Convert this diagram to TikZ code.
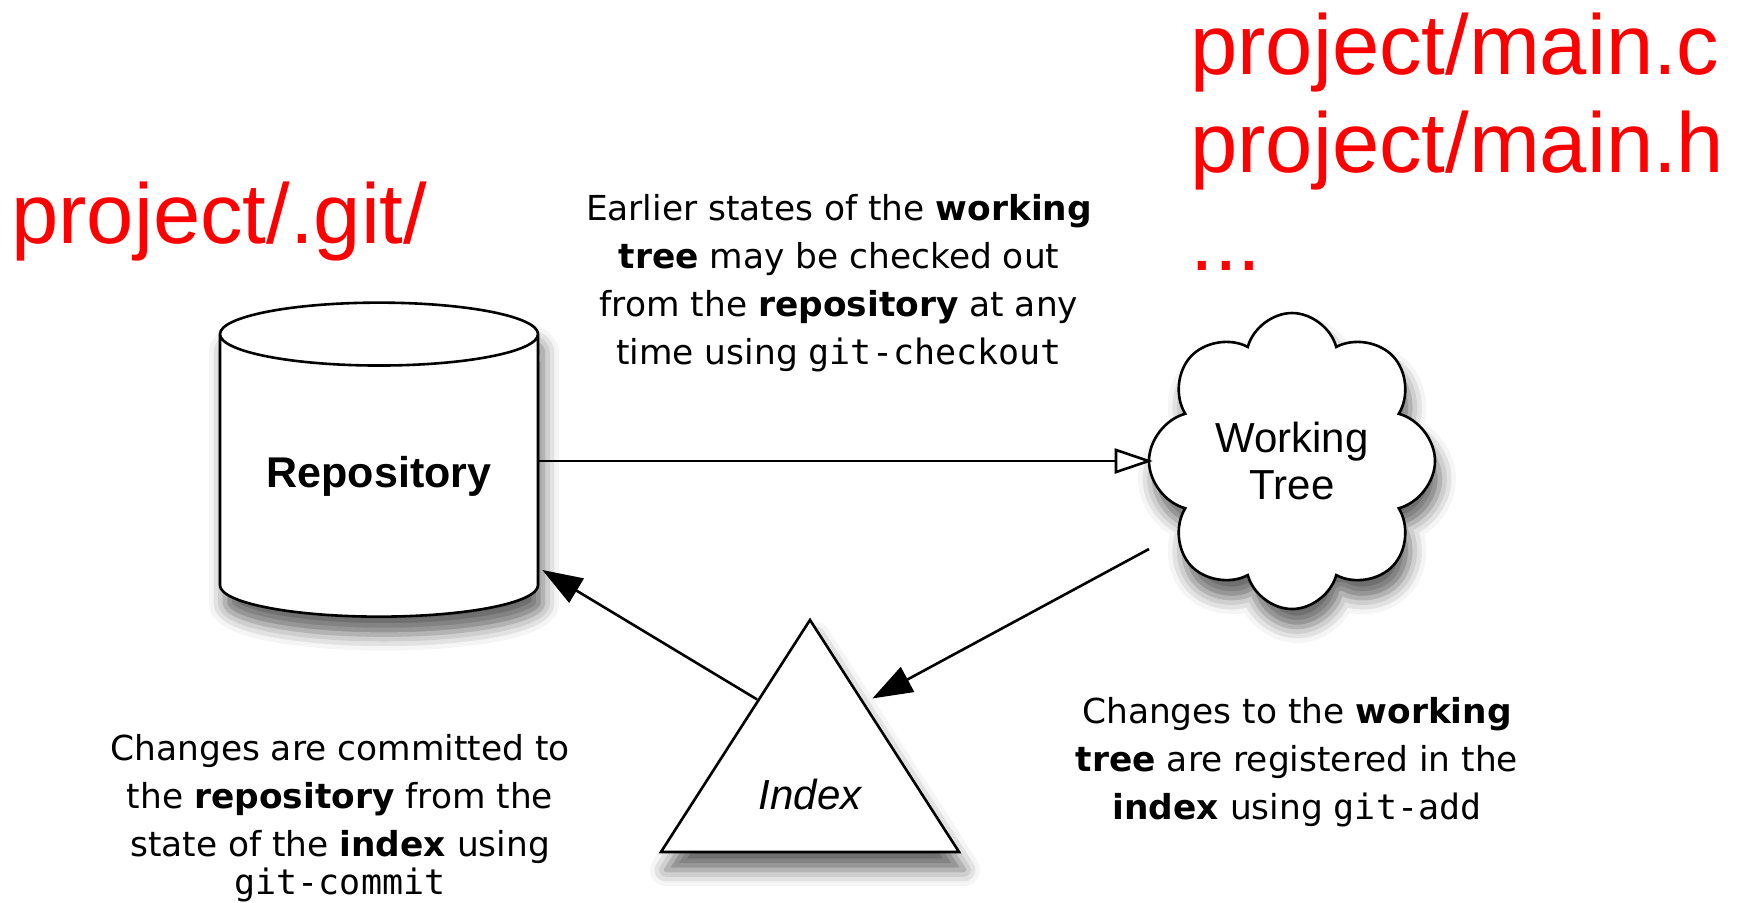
\documentclass[tikz,border=0pt]{standalone}
\usepackage{fontspec}
\setmainfont{Liberation Sans}
\setmonofont{DejaVu Sans Mono}
\newfontfamily\notefont{DejaVu Sans}
\usetikzlibrary{arrows.meta}
\usetikzlibrary{shapes.geometric}
\usetikzlibrary{shapes.symbols}
\usetikzlibrary{shadows.blur}
\usetikzlibrary{calc}
\usepackage{color}
\definecolor{pathred}{RGB}{255,0,0}
\newcommand{\gitcmd}[1]{{\fontsize{17.5}{24}\selectfont\ttfamily #1}}

\begin{document}
\begin{tikzpicture}[x=0.5pt,y=-0.5pt,
        store/.style={draw=black, line width=1.3pt, fill=white, inner sep=0pt,
            blur shadow={shadow xshift=2.5pt, shadow yshift=-9pt, shadow blur radius=8pt, shadow opacity=60}},
        note/.style={align=center, anchor=base, inner sep=0pt, font=\notefont\fontsize{17.2}{24}\selectfont},
        pathnote/.style={align=left, anchor=base west, inner sep=0pt, text=pathred, font=\fontsize{42.5}{49}\selectfont},
        openarrow/.style={line width=1.3pt, -{Triangle[fill=white, length=19pt, width=12.5pt]}},
        fillarrow/.style={line width=1.3pt, -{Triangle[length=20pt, width=14pt]}}]
            \useasboundingbox (0,0) rectangle (1738,902);

            \node[store, cylinder, shape border rotate=90, aspect=0.28, minimum width=159pt, minimum height=157pt,
                font=\fontsize{21.5}{24}\selectfont\bfseries] (repo) at (379,476) {Repository};
            \node[store, cloud, cloud puffs=8, cloud puff arc=150, aspect=1, minimum width=143pt, minimum height=148pt,
                align=center, font=\fontsize{21}{23.5}\selectfont] (wtree) at (1292,461) {Working\\Tree};
            \node[store, isosceles triangle, isosceles triangle stretches, shape border rotate=90,
                minimum width=149pt, minimum height=116pt, font=\fontsize{21}{24}\selectfont\itshape] (index) at (810,794) {Index};

            \node[note] (checkouttext) at (839,364) {Earlier states of the \textbf{working}\\
                \textbf{tree} may be checked out\\ from the \textbf{repository} at any\\ time using \gitcmd{git-checkout}};
            \node[note] (committext) at (340,894) {Changes are committed to\\
                the \textbf{repository} from the\\ state of the \textbf{index} using\\[-5pt] \gitcmd{git-commit}};
            \node[note] (addtext) at (1297,819) {Changes to the \textbf{working}\\
                \textbf{tree} are registered in the\\ \textbf{index} using \gitcmd{git-add}};

            \node[pathnote] (gitdir) at (11,243) {project/.git/};
            \node[pathnote] (workfiles) at (1190,270) {project/main.c\\ project/main.h\\ ...};

            \draw[openarrow] (repo.east |- wtree.west) -- ($(wtree.west)+(5,0)$);
            \draw[fillarrow] ($(index.apex)!0.35!(index.left corner)$) -- ($(repo.east)+(3,94)$);
            \draw[fillarrow] ($(wtree.center)+(-143,88)$) -- ($(index.apex)!0.346!(index.right corner)+(10,0)$);
        \end{tikzpicture}
\end{document}
